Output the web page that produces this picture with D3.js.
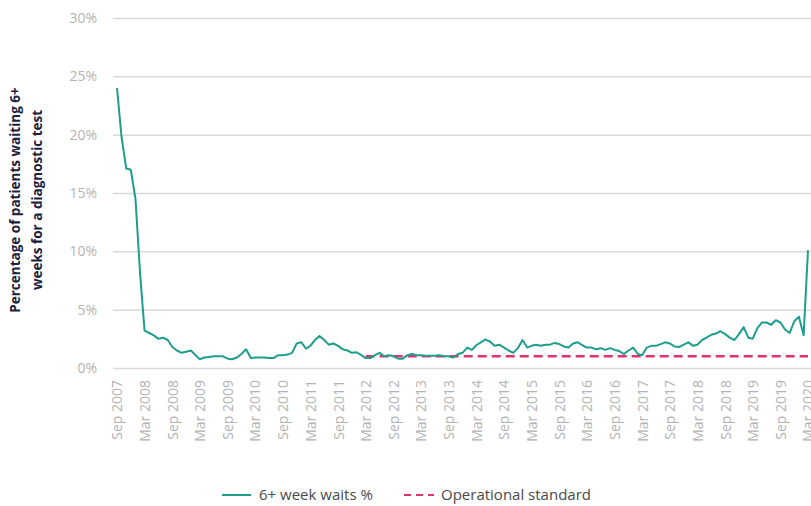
<!DOCTYPE html>
<html>
<head>
<meta charset="utf-8">
<script src="https://cdn.jsdelivr.net/npm/d3@7"></script>
<style>
  html, body { margin: 0; padding: 0; background: #fff; }
  svg { display: block; }
</style>
</head>
<body>
<svg id="chart" width="811" height="506"></svg>
<script>
// Monthly series, Sep 2007 .. Mar 2020
const startMonth = "2007-09";
const waitsPct = [
  24.0, 19.8, 17.1, 17.0, 14.5, 8.0, 3.2, 3.0, 2.8, 2.5,
  2.6, 2.4, 1.8, 1.5, 1.3, 1.4, 1.5, 1.1, 0.75, 0.9,
  0.95, 1.0, 1.0, 1.0, 0.8, 0.75, 0.9, 1.2, 1.6, 0.85,
  0.9, 0.9, 0.9, 0.85, 0.85, 1.1, 1.1, 1.15, 1.3, 2.1,
  2.2, 1.65, 1.9, 2.4, 2.75, 2.4, 2.0, 2.1, 1.9, 1.6,
  1.5, 1.3, 1.35, 1.1, 0.85, 0.85, 1.1, 1.3, 1.0, 1.1,
  1.0, 0.8, 0.8, 1.1, 1.2, 1.1, 1.1, 1.05, 1.05, 1.05,
  1.1, 1.0, 1.0, 0.9, 1.2, 1.3, 1.75, 1.55, 1.95, 2.2,
  2.45, 2.25, 1.9, 2.0, 1.75, 1.5, 1.3, 1.7, 2.4, 1.75,
  1.9, 2.0, 1.9, 2.0, 2.0, 2.15, 2.05, 1.85, 1.75, 2.1,
  2.2, 1.95, 1.75, 1.75, 1.6, 1.7, 1.55, 1.7, 1.55, 1.45,
  1.2, 1.5, 1.75, 1.2, 1.1, 1.75, 1.9, 1.9, 2.05, 2.2,
  2.1, 1.85, 1.8, 2.0, 2.2, 1.9, 2.0, 2.4, 2.6, 2.85,
  2.95, 3.15, 2.9, 2.6, 2.4, 2.9, 3.5, 2.6, 2.5, 3.4,
  3.9, 3.9, 3.7, 4.1, 3.9, 3.3, 3.0, 4.0, 4.4, 2.8,
  10.1
];
const standardStart = "2012-03";
const standardPct = 1;
const yTicks = [0, 5, 10, 15, 20, 25, 30];
const xTickLabels = ["Sep 2007","Mar 2008","Sep 2008","Mar 2009","Sep 2009","Mar 2010",
  "Sep 2010","Mar 2011","Sep 2011","Mar 2012","Sep 2012","Mar 2013","Sep 2013",
  "Mar 2014","Sep 2014","Mar 2015","Sep 2015","Mar 2016","Sep 2016","Mar 2017",
  "Sep 2017","Mar 2018","Sep 2018","Mar 2019","Sep 2019","Mar 2020"];
const yTitle = ["Percentage of patients waiting 6+", "weeks for a diagnostic test"];
const legendLabels = ["6+ week waits %", "Operational standard"];

const parseM = d3.timeParse("%Y-%m");
const fmtLabel = d3.timeFormat("%b %Y");
const t0 = parseM(startMonth);
const data = waitsPct.map((v, i) => ({ date: d3.timeMonth.offset(t0, i), v }));
const tEnd = data[data.length - 1].date;
const tStd = parseM(standardStart);

const svg = d3.select("#chart");
const x = d3.scaleTime().domain([t0, tEnd]).range([117, 808]);
const y = d3.scaleLinear().domain([0, 30]).range([368, 18]);

const teal = "#1f9e8e";
const pink = "#e0336e";
const font = "Open Sans, sans-serif";

// gridlines + y labels
const yAxis = d3.axisLeft(y).tickValues(yTicks).tickFormat(d => d + "%")
  .tickSize(-(811 - 113)).tickPadding(16);
const gy = svg.append("g").attr("transform", "translate(113,0)").call(yAxis);
gy.select(".domain").remove();
gy.selectAll(".tick line").attr("stroke", "#d9d9d9").attr("stroke-width", 1.5);
gy.selectAll(".tick text").attr("fill", "#b3b3b3").attr("font-size", 14)
  .attr("font-family", font);

// x labels
const xAxis = d3.axisBottom(x)
  .tickValues(xTickLabels.map(s => d3.timeParse("%b %Y")(s)))
  .tickFormat(d => fmtLabel(d)).tickSize(0).tickPadding(0);
const gx = svg.append("g").attr("transform", "translate(0,378)").call(xAxis);
gx.select(".domain").remove();
gx.selectAll(".tick text")
  .attr("fill", "#b3b3b3").attr("font-size", 14)
  .attr("font-family", font)
  .attr("text-anchor", "end")
  .attr("transform", "rotate(-90)")
  .attr("x", -2).attr("y", 0).attr("dy", "0.35em");

// operational standard
const stdData = data.filter(d => d.date >= tStd).map(d => ({ date: d.date, v: standardPct }));
svg.append("path").datum(stdData)
  .attr("fill", "none").attr("stroke", pink).attr("stroke-width", 2.5)
  .attr("stroke-dasharray", "9,5")
  .attr("d", d3.line().x(d => x(d.date)).y(d => y(d.v)));

// main line
svg.append("path").datum(data)
  .attr("fill", "none").attr("stroke", teal).attr("stroke-width", 2)
  .attr("stroke-linejoin", "round")
  .attr("d", d3.line().x(d => x(d.date)).y(d => y(d.v)));

// y title
const yt = svg.append("text")
  .attr("transform", "translate(27,200) rotate(-90)")
  .attr("text-anchor", "middle")
  .attr("fill", "#1c1f3d").attr("font-weight", "bold")
  .attr("font-size", 13.5).attr("font-family", font);
yTitle.forEach((t, i) => yt.append("tspan").attr("x", 0).attr("dy", i === 0 ? "-0.5em" : "1.6em").text(t));

// legend
const lg = svg.append("g").attr("font-family", font).attr("font-size", 15).attr("fill", "#4a4a4a");
lg.append("line").attr("x1", 222).attr("x2", 251).attr("y1", 495).attr("y2", 495)
  .attr("stroke", teal).attr("stroke-width", 2);
lg.append("text").attr("x", 259).attr("y", 495).attr("dy", "0.35em").text(legendLabels[0]);
lg.append("line").attr("x1", 404).attr("x2", 434).attr("y1", 495).attr("y2", 495)
  .attr("stroke", pink).attr("stroke-width", 2).attr("stroke-dasharray", "7,5");
lg.append("text").attr("x", 441).attr("y", 495).attr("dy", "0.35em").text(legendLabels[1]);
</script>
</body>
</html>
